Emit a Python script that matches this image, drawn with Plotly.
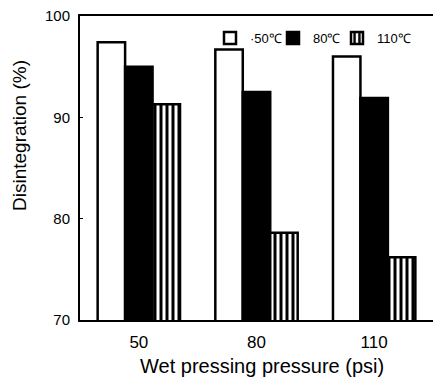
import plotly.graph_objects as go

categories = ["50", "80", "110"]
series_names = ["·50℃", "80℃", "110℃"]
v50 = [97.4, 96.7, 96.0]
v80 = [95.0, 92.5, 91.9]
v110 = [91.3, 78.6, 76.2]
y_ticks = [70, 80, 90, 100]

FONT = "Liberation Sans"

fig = go.Figure()
fig.add_trace(go.Bar(x=categories, y=v50, name=series_names[0], legend="legend",
                     marker=dict(color="white", line=dict(color="black", width=2.5))))
fig.add_trace(go.Bar(x=categories, y=v80, name=series_names[1], legend="legend2",
                     marker=dict(color="black", line=dict(color="black", width=2.5))))
fig.add_trace(go.Bar(x=categories, y=v110, name=series_names[2], legend="legend3",
                     marker=dict(color="white", line=dict(color="black", width=2.5),
                                 pattern=dict(shape="|", fgcolor="black", bgcolor="white",
                                              size=6, solidity=0.5, fillmode="replace"))))

L, R, T, B = 80, 0, 16, 61
W, H = 433, 381
pw = W - L - R
ph = H - T - B


def leg(px):
    return dict(orientation="h", x=(px - L) / pw, y=(H - B - 38) / ph,
                xanchor="left", yanchor="middle",
                font=dict(size=13, family=FONT), itemwidth=30,
                bgcolor="rgba(0,0,0,0)")


fig.update_layout(
    width=W, height=H,
    margin=dict(l=L, r=R, t=T, b=B, autoexpand=False),
    paper_bgcolor="white", plot_bgcolor="white",
    barmode="group", bargap=0.3, bargroupgap=0,
    font=dict(family=FONT, color="black", size=15),
    showlegend=True,
    legend=leg(210), legend2=leg(273), legend3=leg(337),
    xaxis=dict(showline=True, linecolor="black", linewidth=2, mirror=True,
               ticks="", tickfont=dict(size=17), range=[-0.5, 2.5],
               ticklabelstandoff=6),
    yaxis=dict(range=[70, 100], tickvals=y_ticks, showline=True, linecolor="black",
               linewidth=2, ticks="inside", ticklen=3, tickcolor="black",
               showgrid=False, zeroline=False, tickfont=dict(size=15),
               ticklabelstandoff=5),
    annotations=[
        dict(text="Disintegration (%)", textangle=-90,
             x=(19 - L) / pw, y=(H - B - 136) / ph, xref="paper", yref="paper",
             xanchor="center", yanchor="middle",
             showarrow=False, font=dict(size=19)),
        dict(text="Wet pressing pressure (psi)",
             x=(262 - L) / pw, y=(H - B - 366) / ph, xref="paper", yref="paper",
             xanchor="center", yanchor="middle",
             showarrow=False, font=dict(size=20)),
    ],
)

fig.write_html("out.html")
